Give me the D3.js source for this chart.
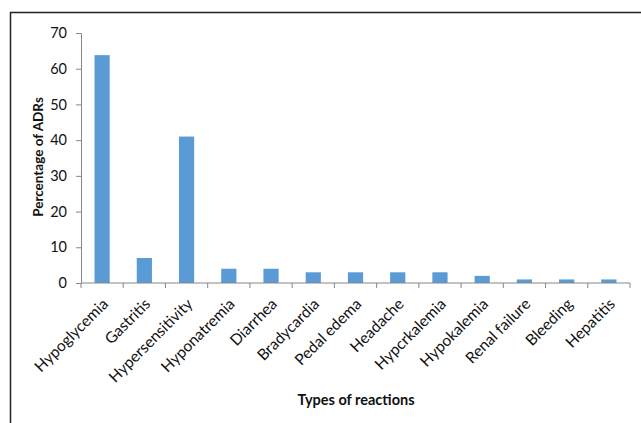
<!DOCTYPE html>
<html>
<head>
<meta charset="utf-8">
<script src="https://cdn.jsdelivr.net/npm/d3@7"></script>
<style>
  body { margin: 0; background: #fff; }
  svg text { font-family: Lato, "Open Sans", sans-serif; fill: #111; }
</style>
</head>
<body>
<div id="chart"></div>
<script>
// reactions and their share of all ADRs (%)
var reactions = ["Hypoglycemia", "Gastritis", "Hypersensitivity", "Hyponatremia", "Diarrhea",
  "Bradycardia", "Pedal edema", "Headache", "Hypcrkalemia", "Hypokalemia",
  "Renal failure", "Bleeding", "Hepatitis"];
var percents = [63.8, 7, 41, 4, 4, 3, 3, 3, 3, 2, 1, 1, 1];
var yTicks = [0, 10, 20, 30, 40, 50, 60, 70];

let width = 641;
let height = 423;

var svg = d3.select("#chart")
  .append("svg")
  .attr("width", width)
  .attr("height", height);

//frame, only top and left edges show in the picture
svg.append("line")
  .attr("x1", 10).attr("x2", width)
  .attr("y1", 12.5).attr("y2", 12.5)
  .attr("stroke", "#222").attr("stroke-width", 1.5);
svg.append("line")
  .attr("x1", 10.5).attr("x2", 10.5)
  .attr("y1", 12).attr("y2", height)
  .attr("stroke", "#222").attr("stroke-width", 1.5);

var x = d3.scaleBand()
  .domain(reactions)
  .range([81, 630])
  .paddingInner(0.64)
  .paddingOuter(0.32);

var y = d3.scaleLinear()
  .domain([0, 70])
  .range([283, 33]);

var data = reactions.map((r, i) => ({name: r, value: percents[i]}));

svg.selectAll(".bar")
  .data(data)
  .enter().append("rect")
  .attr("class", "bar")
  .attr("x", d => x(d.name))
  .attr("width", x.bandwidth())
  .attr("y", d => y(d.value))
  .attr("height", d => y(0) - y(d.value))
  .attr("fill", "#5b9bd5");

//y axis
var yAxis = svg.append("g")
  .attr("transform", "translate(81,0)")
  .call(d3.axisLeft(y).tickValues(yTicks).tickSize(5).tickPadding(9));
yAxis.selectAll("text").style("font-size", "14.5px");
yAxis.select(".domain").attr("stroke", "#868686");
yAxis.selectAll(".tick line").attr("stroke", "#868686");

//x axis, ticks sit between the categories
var step = x.step();
var xAxis = svg.append("g").attr("transform", "translate(0,283)");
xAxis.append("line")
  .attr("x1", 81).attr("x2", 630)
  .attr("stroke", "#868686");
xAxis.selectAll(".sep")
  .data(d3.range(reactions.length + 1))
  .enter().append("line")
  .attr("class", "sep")
  .attr("x1", i => 81 + i * step)
  .attr("x2", i => 81 + i * step)
  .attr("y1", 0).attr("y2", 5)
  .attr("stroke", "#868686");
xAxis.selectAll(".lbl")
  .data(reactions)
  .enter().append("text")
  .attr("class", "lbl")
  .attr("text-anchor", "end")
  .attr("transform", d => "translate(" + (x(d) + x.bandwidth() / 2 + 7) + ",22) rotate(-45)")
  .style("font-size", "15.5px")
  .text(d => d);

//titles
svg.append("text")
  .attr("x", 356)
  .attr("y", 405)
  .attr("text-anchor", "middle")
  .style("font-size", "14.5px")
  .style("font-weight", "bold")
  .text("Types of reactions");

svg.append("text")
  .attr("transform", "translate(43,157) rotate(-90)")
  .attr("text-anchor", "middle")
  .style("font-size", "13.5px")
  .style("font-weight", "bold")
  .text("Percentage of ADRs");
</script>
</body>
</html>
